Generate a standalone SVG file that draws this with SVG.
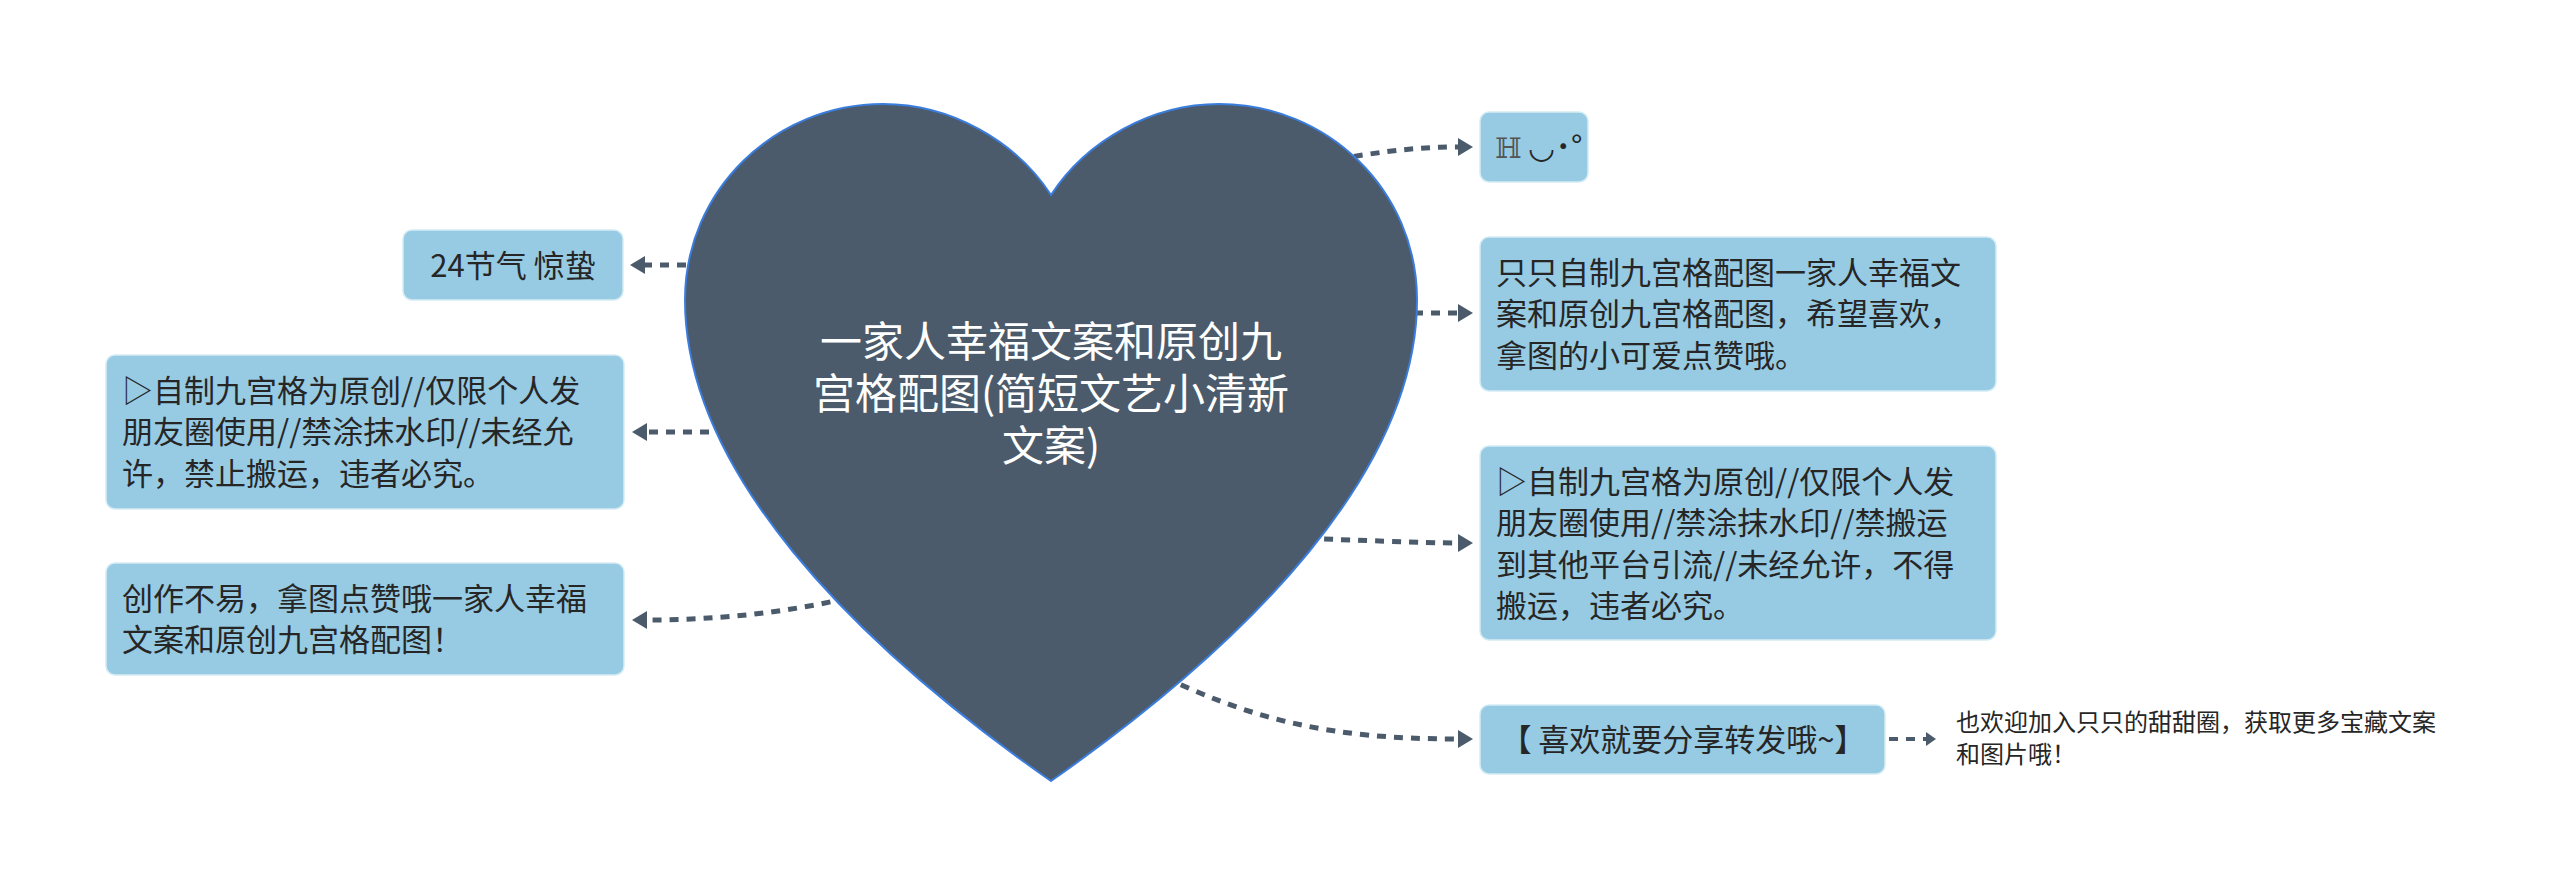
<svg xmlns="http://www.w3.org/2000/svg" width="2560" height="887" viewBox="0 0 2560 887">
<style>
.box{fill:#96cbe3;stroke:#d6ecf5;stroke-width:1.5}
.t{font-family:"Noto Sans CJK SC","Liberation Sans",sans-serif;font-size:31px;fill:#262626}
.s{font-family:"Noto Sans CJK SC","Liberation Sans",sans-serif;font-size:24px;fill:#262626}
.c{font-family:"Noto Sans CJK SC","Liberation Sans",sans-serif;font-size:42px;fill:#ffffff}
.ln{fill:none;stroke:#4b5b6b;stroke-width:5;stroke-dasharray:9 8}
</style>
<defs>
<marker id="ar" markerUnits="userSpaceOnUse" markerWidth="16" markerHeight="18" refX="0" refY="9" orient="auto">
<path d="M0,0 L15,9 L0,18 Z" fill="#4b5b6b"/>
</marker>
<marker id="ars" markerUnits="userSpaceOnUse" markerWidth="11" markerHeight="14" refX="0" refY="7" orient="auto">
<path d="M0,0 L10,7 L0,14 Z" fill="#4b5b6b"/>
</marker>
</defs>
<g id="connectors">
<path class="ln" d="M1320,162 C1390,150 1420,147 1458,147" marker-end="url(#ar)"/>
<path class="ln" d="M1380,313 L1458,313" marker-end="url(#ar)"/>
<path class="ln" d="M1290,538 C1360,540 1420,543 1458,543" marker-end="url(#ar)"/>
<path class="ln" d="M1150,670 C1250,720 1330,739 1458,739" marker-end="url(#ar)"/>
<path class="ln" d="M720,265 L645,265" marker-end="url(#ar)"/>
<path class="ln" d="M760,432 L647,432" marker-end="url(#ar)"/>
<path class="ln" d="M880,590 C800,612 720,620 647,620" marker-end="url(#ar)"/>
<path class="ln" style="stroke-width:4" d="M1889,739 L1926,739" marker-end="url(#ars)"/>
</g>
<g id="center">
<path d="M1051,195 C1015,140 950,104 883,104 C775,104 685,190 685,300 C685,470 851,641 1051,781 C1251,641 1417,470 1417,300 C1417,190 1327,104 1219,104 C1152,104 1087,140 1051,195 Z" fill="#4b5b6b" stroke="#3b7ddd" stroke-width="2"/>
<text class="c" text-anchor="middle"><tspan x="1051" y="357">一家人幸福文案和原创九</tspan><tspan x="1051" y="409">宫格配图(简短文艺小清新</tspan><tspan x="1051" y="461">文案)</tspan></text>
</g>
<g id="n1">
<rect class="box" x="403" y="230" width="220" height="70" rx="9"/>
<text class="t" x="513" y="277" text-anchor="middle">24节气 惊蛰</text>
</g>
<g id="n2">
<rect class="box" x="106" y="355" width="518" height="154" rx="9"/>
<text class="t"><tspan x="122" y="401.5">▷自制九宫格为原创//仅限个人发</tspan><tspan x="122" y="443">朋友圈使用//禁涂抹水印//未经允</tspan><tspan x="122" y="484.5">许，禁止搬运，违者必究。</tspan></text>
</g>
<g id="n3">
<rect class="box" x="106" y="563" width="518" height="112" rx="9"/>
<text class="t"><tspan x="122" y="609.5">创作不易，拿图点赞哦一家人幸福</tspan><tspan x="122" y="651">文案和原创九宫格配图！</tspan></text>
</g>
<g id="n4">
<rect class="box" x="1480" y="112" width="108" height="70" rx="9"/>
<text class="t" x="1495" y="158"><tspan font-family="DejaVu Serif,serif" font-size="28" fill="#555">ℍ</tspan> ◡˙°</text>
</g>
<g id="n5">
<rect class="box" x="1480" y="237" width="516" height="154" rx="9"/>
<text class="t"><tspan x="1496" y="283.5">只只自制九宫格配图一家人幸福文</tspan><tspan x="1496" y="325">案和原创九宫格配图，希望喜欢，</tspan><tspan x="1496" y="366.5">拿图的小可爱点赞哦。</tspan></text>
</g>
<g id="n6">
<rect class="box" x="1480" y="446" width="516" height="194" rx="9"/>
<text class="t"><tspan x="1496" y="492.5">▷自制九宫格为原创//仅限个人发</tspan><tspan x="1496" y="534">朋友圈使用//禁涂抹水印//禁搬运</tspan><tspan x="1496" y="575.5">到其他平台引流//未经允许，不得</tspan><tspan x="1496" y="617">搬运，违者必究。</tspan></text>
</g>
<g id="n7">
<rect class="box" x="1480" y="705" width="405" height="69" rx="9"/>
<text class="t" x="1683" y="751" text-anchor="middle">【 喜欢就要分享转发哦~】</text>
</g>
<g id="n8">
<text class="s"><tspan x="1956" y="731">也欢迎加入只只的甜甜圈，获取更多宝藏文案</tspan><tspan x="1956" y="763">和图片哦！</tspan></text>
</g>
</svg>
